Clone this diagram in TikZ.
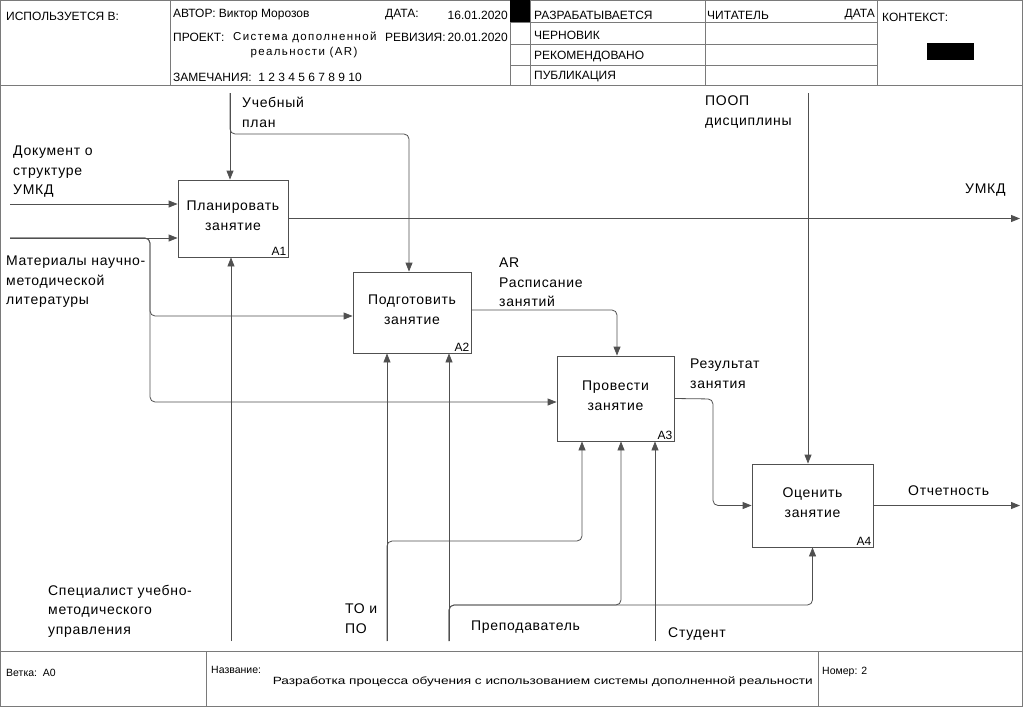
\documentclass[tikz,border=0pt]{standalone}
\usepackage{fontspec}
\usepackage{graphicx}
\setmainfont{Liberation Sans}
\newfontfamily\widefont[LetterSpace=5]{Liberation Sans}
\newfontfamily\widerfont[LetterSpace=12]{Liberation Sans}
\usetikzlibrary{arrows.meta}
\definecolor{linegray}{HTML}{505050}
\definecolor{framegray}{HTML}{7A7A7A}

\begin{document}
\begin{tikzpicture}[x=1pt, y=-1pt,
	every node/.style={font=\widefont\fontsize{14}{19.5}\selectfont},
	>={Triangle[length=9pt,width=7pt]},
	frame/.style={draw=framegray, line width=0.8pt},
	fbox/.style={draw=linegray, line width=0.8pt, align=center, inner sep=0pt, text depth=6pt},
	num/.style={anchor=south east, inner sep=2pt, font=\fontsize{12}{14}\selectfont},
	arr/.style={->, draw=linegray, line width=0.8pt, rounded corners=5pt},
	lbl/.style={anchor=north west, align=left, inner sep=0pt},
	hd/.style={anchor=west, inner sep=0pt, font=\fontsize{12}{14}\selectfont},
	ft/.style={anchor=west, inner sep=0pt, font=\fontsize{10.5}{12}\selectfont}]
	\useasboundingbox (0,0) rectangle (1023,707);
	% frame and title block
	\draw[frame] (0.5,0.5) rectangle (1022.5,706);
	\draw[frame] (0,85) -- (1023,85);
	\draw[frame] (0,651) -- (1023,651);
	\foreach \x in {170,510,530,705,877} \draw[frame] (\x,0) -- (\x,85);
	\foreach \y in {22,44,65} \draw[frame] (510,\y) -- (877,\y);
	\foreach \x in {206,818} \draw[frame] (\x,651) -- (\x,706);
	\fill (510,0) rectangle (530,22);
	\fill (927,43) rectangle (974,60);
	
	\node[hd] (used) at (6,16) {ИСПОЛЬЗУЕТСЯ В:};
	\node[hd] (author) at (173,15) {АВТОР: Виктор Морозов};
	\node[hd] (date) at (385,15) {ДАТА:};
	\node[hd, anchor=east] (dateval) at (508,15) {16.01.2020};
	\node[hd] (proj) at (173,37) {ПРОЕКТ:};
	\node[hd, font=\widerfont\fontsize{11.5}{13}\selectfont] (projval) at (233,37) {Система дополненной};
	\node[hd, anchor=center, font=\widerfont\fontsize{11.5}{13}\selectfont] (projval2) at (304,53) {реальности (AR)};
	\node[hd] (rev) at (385,37) {РЕВИЗИЯ:};
	\node[hd, anchor=east] (revval) at (508,37) {20.01.2020};
	\node[hd] (notes) at (173,77) {ЗАМЕЧАНИЯ:\ \ 1 2 3 4 5 6 7 8 9 10};
	\foreach \t/\y [count=\i] in {РАЗРАБАТЫВАЕТСЯ/15, ЧЕРНОВИК/35, РЕКОМЕНДОВАНО/57, ПУБЛИКАЦИЯ/77}
		\node[hd] (st\i) at (534,\y) {\t};
	\node[hd] (reader) at (707,15) {ЧИТАТЕЛЬ};
	\node[hd, anchor=east] (rdate) at (875,15) {ДАТА};
	\node[hd] (ctx) at (882,17) {КОНТЕКСТ:};
	
	\node[ft] (branch) at (6,673) {Ветка:\ \ A0};
	\node[ft] (name) at (211,670) {Название:};
	\node[ft, anchor=east] (title) at (813,682) {\resizebox{540pt}{\height}{Разработка процесса обучения с использованием системы дополненной реальности}};
	\node[ft] (sheet) at (822,672) {Номер: 2};
	
	% function boxes
	\node[fbox, minimum width=110pt, minimum height=77pt] (A1) at (233,218.5) {Планировать\\занятие};
	\node[fbox, minimum width=118pt, minimum height=81pt] (A2) at (412,312.5) {Подготовить\\занятие};
	\node[fbox, minimum width=117pt, minimum height=85pt] (A3) at (615.5,398.5) {Провести\\занятие};
	\node[fbox, minimum width=121pt, minimum height=83pt] (A4) at (812.5,505.5) {Оценить\\занятие};
	\foreach \b in {A1,A2,A3,A4}
		\node[num] (\b n) at (\b.south east) {\b};
	
	% inputs
	\coordinate (in1) at (10,204);
	\coordinate (in2) at (10,238);
	\coordinate (br2) at (150,238);
	\draw[arr] (in1) -- (in1 -| A1.west);
	\draw[arr] (in2) -- (in2 -| A1.west);
	\draw[arr] (in2) -- (br2) |- ([yshift=-3.5pt]A2.west);
	\draw[arr] (in2) -- (br2) |- ([yshift=-3.5pt]A3.west);
	
	% controls
	\coordinate (c1) at (230,93);
	\coordinate (bc1) at (230,134);
	\draw[arr] (c1) -- (c1 |- A1.north);
	\draw[arr] (c1) -- (bc1) -| ([xshift=-3pt]A2.north);
	\coordinate (c2) at (808,93);
	\draw[arr] (c2) -- (c2 |- A4.north);
	
	% outputs
	\coordinate (out1) at (1020,218.5);
	\draw[arr] (A1.east) -- (A1.east -| out1);
	\draw[arr] ([yshift=2.5pt]A2.east) -| ([xshift=1.5pt]A3.north);
	\coordinate (j3) at (713,399);
	\draw[arr] (A3.east) -- (j3) |- (A4.west);
	\draw[arr] (A4.east) -- (A4.east -| out1);
	
	% mechanisms
	\coordinate (m1) at (231,641);
	\draw[arr] (m1) -- (m1 |- A1.south);
	\coordinate (m2) at (387,641);
	\coordinate (bm2) at (387,541);
	\draw[arr] (m2) -- (m2 |- A2.south);
	\draw[arr] (m2) -- (bm2) -| ([xshift=-33.5pt]A3.south);
	\coordinate (m3) at (449,641);
	\coordinate (bm3) at (449,605);
	\draw[arr] (m3) -- (m3 |- A2.south);
	\draw[arr] (m3) -- (bm3) -| ([xshift=5.5pt]A3.south);
	\draw[arr] (m3) -- (bm3) -| (A4.south);
	\coordinate (m4) at (655,641);
	\draw[arr] (m4) -- (m4 |- A3.south);
	
	% arrow labels
	\node[lbl] (doc) at (13,146) {Документ о\\структуре\\УМКД};
	\node[lbl] (mat) at (6,256) {Материалы научно-\\методической\\литературы};
	\node[lbl] (plan) at (242,97) {Учебный\\план};
	\node[lbl] (poop) at (705,96) {ПООП\\дисциплины};
	\node[lbl] (umkd) at (965,184) {УМКД};
	\node[lbl] (sched) at (499,258) {AR\\Расписание\\занятий};
	\node[lbl] (res) at (690,359) {Результат\\занятия};
	\node[lbl] (rep) at (908,486) {Отчетность};
	\node[lbl] (spec) at (48,585) {Специалист учебно-\\методического\\управления};
	\node[lbl] (toop) at (345,604) {ТО и\\ПО};
	\node[lbl] (teach) at (471,621) {Преподаватель};
	\node[lbl] (stud) at (668,628) {Студент};
\end{tikzpicture}
\end{document}
